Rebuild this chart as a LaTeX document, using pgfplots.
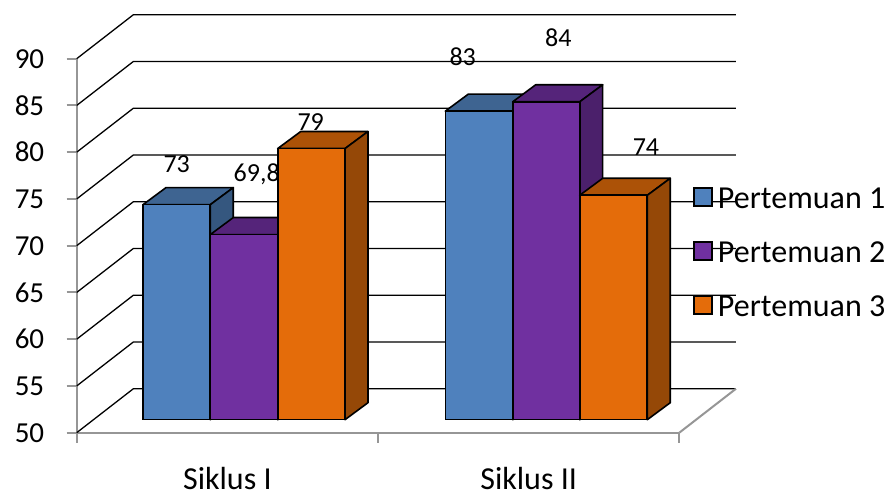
\documentclass[border=0pt]{standalone}
\usepackage{fontspec}
\setmainfont{Carlito}
\usepackage{pgfplots}
\pgfplotsset{compat=1.18}
\definecolor{blueF}{HTML}{4F81BD}
\definecolor{blueT}{HTML}{3E6491}
\definecolor{blueS}{HTML}{35577F}
\definecolor{purpF}{HTML}{7030A0}
\definecolor{purpT}{HTML}{55247A}
\definecolor{purpS}{HTML}{4B206B}
\definecolor{oranF}{HTML}{E46C0A}
\definecolor{oranT}{HTML}{AC5207}
\definecolor{oranS}{HTML}{954807}
\definecolor{axgray}{HTML}{969696}
\newcommand{\lab}{\fontsize{26}{26}\selectfont}
\pgfplotsset{
  wall/.style={black,line width=1.3pt,forget plot},
  face/.style={draw=black,line width=1.6pt,line join=round,fill=#1,forget plot,yshift=13pt},
  front/.style={ybar,bar width=67pt,bar shift=0pt,draw=black,line width=1.6pt,fill=#1,yshift=13pt},
}
\begin{document}
\begin{tikzpicture}
\useasboundingbox (-76.7pt,-64.3pt) rectangle (813.3pt,432.7pt);
\begin{axis}[
  at={(0pt,0pt)},anchor=south west,
  scale only axis,width=602.6pt,height=374pt,
  xmin=0,xmax=2,ymin=50,ymax=90,
  clip=false,
  axis x line=bottom,axis y line=left,
  axis line style={axgray,line width=2pt,-},
  tick style={axgray,line width=2pt},
  major tick length=10pt,tick align=outside,
  xtick={0,1,2},xticklabels={Siklus I,Siklus II},
  x tick label as interval,
  xticklabel style={font=\fontsize{32}{32}\selectfont,inner sep=0pt,yshift=-24.5pt},
  ytick={50,55,...,90},
  yticklabel style={font=\fontsize{29}{29}\selectfont,xshift=-19pt},
  /pgf/number format/assume math mode=true,
  legend style={at={(axis cs:2.046,76.3)},anchor=north west,draw=none,fill=none,
    inner sep=0pt,outer sep=0pt,row sep=31pt,
    font=\fontsize{32}{32}\selectfont,
    nodes={inner xsep=5pt,inner ysep=0pt}},
  legend cell align=left,
  legend image code/.code={\draw[#1,draw=black,line width=1.8pt] (0pt,-20pt) rectangle (18pt,-2pt);},
]
% back wall and floor
\addplot[wall] coordinates {(0,90) (0.188,94.7) (2.188,94.7)};
\addplot[wall] coordinates {(0,85) (0.188,89.7) (2.188,89.7)};
\addplot[wall] coordinates {(0,80) (0.188,84.7) (2.188,84.7)};
\addplot[wall] coordinates {(0,75) (0.188,79.7) (2.188,79.7)};
\addplot[wall] coordinates {(0,70) (0.188,74.7) (2.188,74.7)};
\addplot[wall] coordinates {(0,65) (0.188,69.7) (2.188,69.7)};
\addplot[wall] coordinates {(0,60) (0.188,64.7) (2.188,64.7)};
\addplot[wall] coordinates {(0,55) (0.188,59.7) (2.188,59.7)};
\addplot[wall] coordinates {(0,50) (0.188,54.7) (2.188,54.7)};
\addplot[axgray,line width=2pt,forget plot] coordinates {(2,50) (2.188,54.7)};
% Pertemuan 1
\addplot[face=blueT] coordinates {(0.2200,73) (0.2963,74.82) (0.5197,74.82) (0.4434,73)} -- cycle;
\addplot[face=blueS] coordinates {(0.4434,50) (0.5197,51.82) (0.5197,74.82) (0.4434,73)} -- cycle;
\addplot[face=blueT] coordinates {(1.2234,83) (1.2997,84.82) (1.5234,84.82) (1.4471,83)} -- cycle;
\addplot[face=blueS] coordinates {(1.4471,50) (1.5234,51.82) (1.5234,84.82) (1.4471,83)} -- cycle;
\addplot[front=blueF] coordinates {(0.3317,73) (1.3353,83)};
\addlegendentry{Pertemuan 1}
% Pertemuan 2
\addplot[face=purpT] coordinates {(0.4434,69.8) (0.5197,71.62) (0.7434,71.62) (0.6671,69.8)} -- cycle;
\addplot[face=purpS] coordinates {(0.6671,50) (0.7434,51.82) (0.7434,71.62) (0.6671,69.8)} -- cycle;
\addplot[face=purpT] coordinates {(1.4471,84) (1.5234,85.82) (1.7457,85.82) (1.6694,84)} -- cycle;
\addplot[face=purpS] coordinates {(1.6694,50) (1.7457,51.82) (1.7457,85.82) (1.6694,84)} -- cycle;
\addplot[front=purpF] coordinates {(0.5553,69.8) (1.5583,84)};
\addlegendentry{Pertemuan 2}
% Pertemuan 3
\addplot[face=oranT] coordinates {(0.6671,79) (0.7434,80.82) (0.9668,80.82) (0.8905,79)} -- cycle;
\addplot[face=oranS] coordinates {(0.8905,50) (0.9668,51.82) (0.9668,80.82) (0.8905,79)} -- cycle;
\addplot[face=oranT] coordinates {(1.6694,74) (1.7457,75.82) (1.9701,75.82) (1.8938,74)} -- cycle;
\addplot[face=oranS] coordinates {(1.8938,50) (1.9701,51.82) (1.9701,75.82) (1.8938,74)} -- cycle;
\addplot[front=oranF] coordinates {(0.7788,79) (1.7816,74)};
\addlegendentry{Pertemuan 3}
% data labels
\node[font=\lab] at (axis cs:0.3319,78.74) {73};
\node[font=\lab] at (axis cs:0.5974,77.67) {69,8};
\node[font=\lab] at (axis cs:0.7766,83.23) {79};
\node[font=\lab] at (axis cs:1.2811,90.18) {83};
\node[font=\lab] at (axis cs:1.5984,92.2) {84};
\node[font=\lab] at (axis cs:1.8894,80.56) {74};
\end{axis}
\end{tikzpicture}
\end{document}
